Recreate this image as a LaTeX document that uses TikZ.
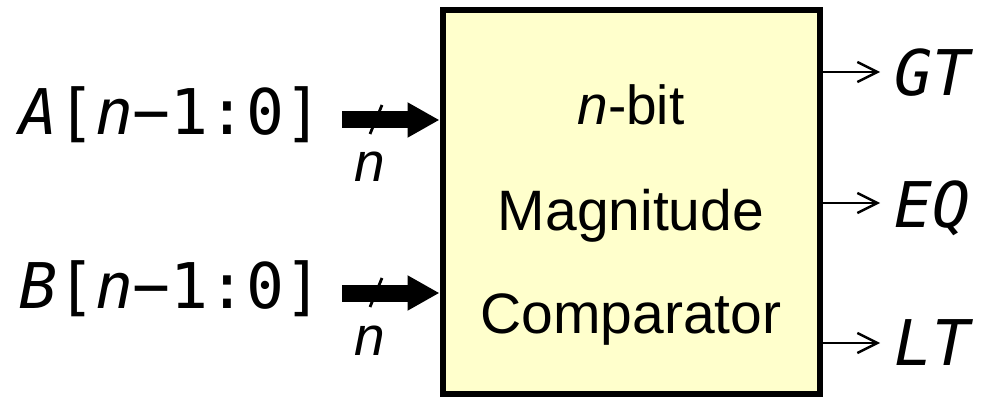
\documentclass[tikz,border=0pt]{standalone}
\usepackage{fontspec}
\setmainfont{Liberation Sans}
\newfontfamily\monofont{DejaVu Sans Mono}
\usetikzlibrary{arrows.meta}
\definecolor{boxyellow}{RGB}{255,255,204}

\begin{document}
\begin{tikzpicture}[x=1pt, y=1pt,
    bus/.style={line width=17pt, -{Triangle[length=32pt, width=33pt]}},
    sig/.style={line width=2.4pt, -{Straight Barb[length=20pt, width=20pt]}},
    port/.style={inner sep=0pt, anchor=base west, font=\monofont\fontsize{63}{63}\selectfont},
    boxtext/.style={inner sep=0pt, anchor=base, font=\fontsize{57}{57}\selectfont},
    widthlabel/.style={inner sep=0pt, anchor=base, font=\itshape\fontsize{55}{55}\selectfont}]
    \useasboundingbox (0,0) rectangle (989,397);

    % comparator block
    \node[draw, line width=6pt, fill=boxyellow, inner sep=0pt,
          minimum width=377.5pt, minimum height=384pt] (cmp) at (631.25,195) {};
    \node[boxtext, font=\fontsize{55}{55}\selectfont] (nbit) at (631,272) {\textit{n}-bit};
    \node[boxtext] (mag) at (631,166) {Magnitude};
    \node[boxtext] (comp) at (631,64) {Comparator};

    % input buses
    \foreach \name/\y/\base in {A/277/262, B/104/89} {
        \node[port] (lbl\name) at (19,\base) {\textit{\name}[\textit{n}−1:0]};
        \coordinate (in\name) at (342,\y);
        \draw[bus] (in\name) -- (in\name -| cmp.west);
        \draw[line width=2.8pt] ([shift={(28,-14)}]in\name) -- ([shift={(40,15)}]in\name);
        \node[widthlabel] (w\name) at ([shift={(28,-62)}]in\name) {n};
    }

    % outputs
    \foreach \name/\y/\base in {GT/325/301, EQ/194/169, LT/54/32} {
        \coordinate (y\name) at (880,\y);
        \draw[sig] (cmp.east |- y\name) -- (y\name);
        \node[port] (out\name) at (894,\base) {\textit{\name}};
    }
\end{tikzpicture}
\end{document}
